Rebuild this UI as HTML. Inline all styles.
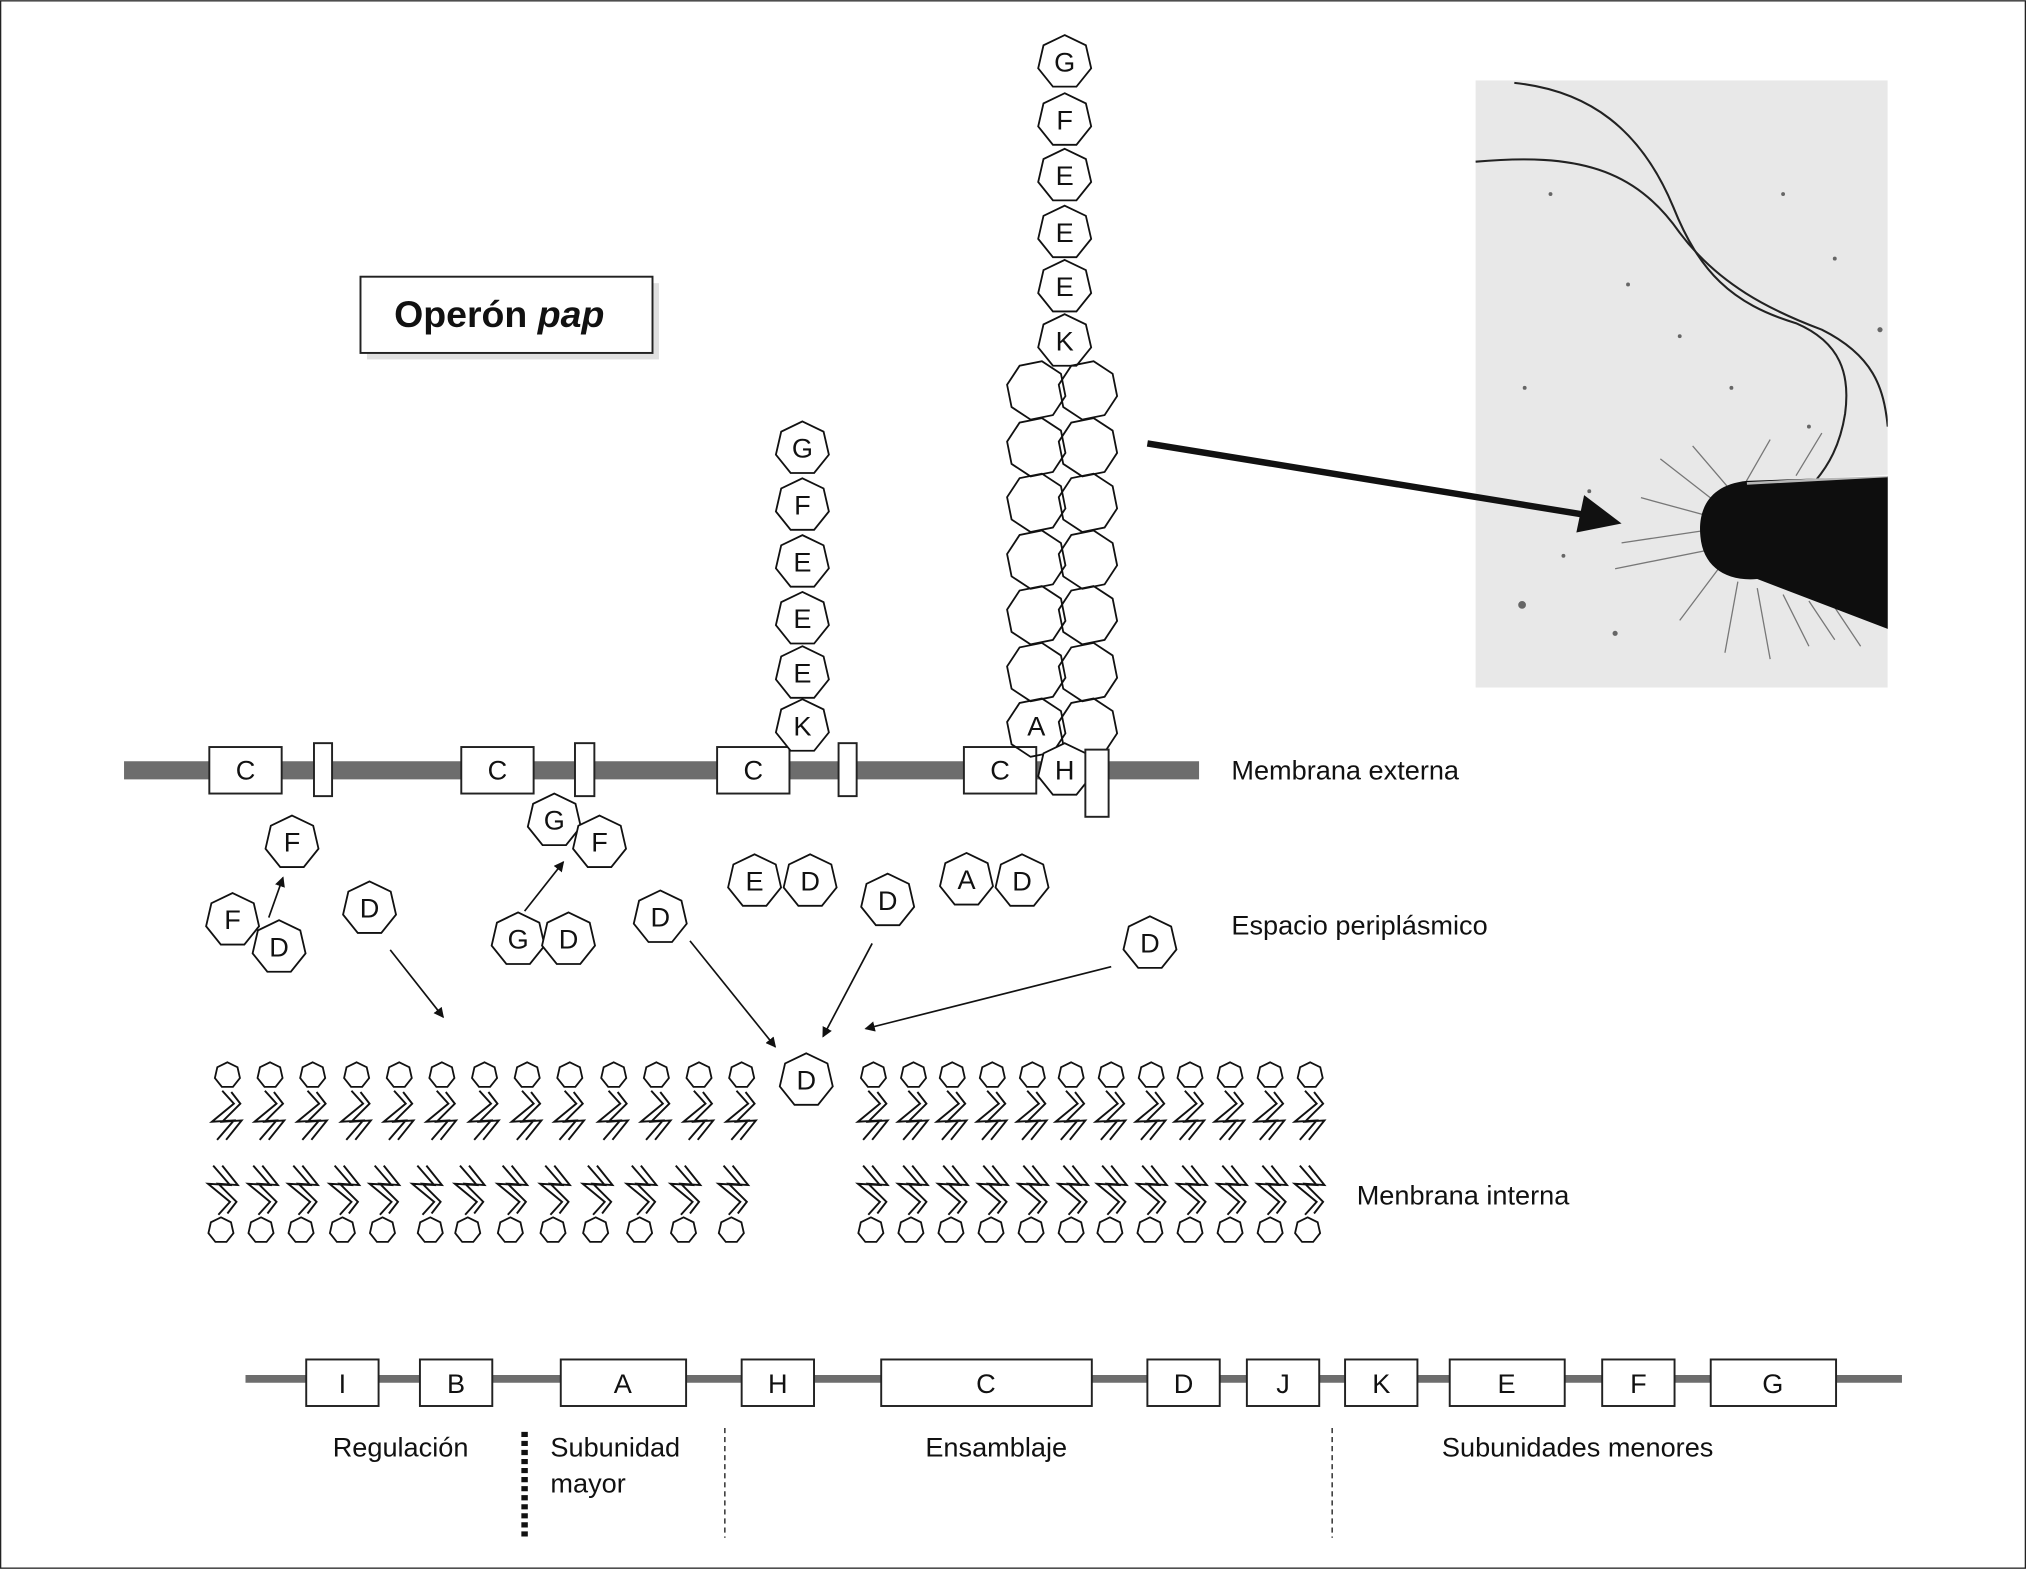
<!DOCTYPE html>
<html><head><meta charset="utf-8"><style>
html,body{margin:0;padding:0;background:#fff}
svg{display:block}
text{font-family:"Liberation Sans",Arial,sans-serif;fill:#111}
</style></head><body>
<svg width="2026" height="1569" viewBox="0 0 1568 1214" xmlns="http://www.w3.org/2000/svg">
<defs>
<polygon id="h" points="0,-21 16.4,-13.1 20.5,4.7 9.1,18.9 -9.1,18.9 -20.5,4.7 -16.4,-13.1" fill="#fff" stroke="#111" stroke-width="1.4"/>
<polygon id="o" points="23,0 16.3,-16.3 0,-23 -16.3,-16.3 -23,0 -16.3,16.3 0,23 16.3,16.3" fill="none" stroke="#111" stroke-width="1.4" transform="rotate(11)"/>
<polygon id="s" points="0,-10 7.8,-6.2 9.7,2.2 4.3,9 -4.3,9 -9.7,2.2 -7.8,-6.2" fill="#fff" stroke="#111" stroke-width="1.4"/>
<path id="t" d="M-3,0 L6,10 L-11,24 L6,23 L-7,38 M4,1 L11,10 L-3,24 L12,23 L0,38" fill="none" stroke="#111" stroke-width="1.5"/>
<marker id="a" markerWidth="8" markerHeight="8" refX="7" refY="4" orient="auto" markerUnits="userSpaceOnUse"><path d="M0,0 L8,4 L0,8 z" fill="#111"/></marker>
<clipPath id="pc"><rect x="1142" y="62" width="319" height="470"/></clipPath>
</defs>
<rect x="0.5" y="0.5" width="1567" height="1213" fill="#fff" stroke="#222" stroke-width="1"/>

<rect x="284" y="219" width="226" height="59" fill="#ccc" opacity="0.6"/>
<rect x="279" y="214" width="226" height="59" fill="#fff" stroke="#222" stroke-width="1.5"/>
<text x="305" y="253" font-size="29" font-weight="bold">Operón <tspan font-style="italic">pap</tspan></text>

<line x1="96" y1="596" x2="928" y2="596" stroke="#6d6d6d" stroke-width="14"/>
<g fill="#fff" stroke="#222" stroke-width="1.5">
<rect x="162" y="578" width="56" height="36"/><rect x="357" y="578" width="56" height="36"/>
<rect x="555" y="578" width="56" height="36"/><rect x="746" y="578" width="56" height="36"/>
<rect x="243" y="575" width="14" height="41"/><rect x="445" y="575" width="15" height="41"/>
<rect x="649" y="575" width="14" height="41"/>
</g>
<g font-size="21" text-anchor="middle">
<text x="190" y="603">C</text><text x="385" y="603">C</text><text x="583" y="603">C</text><text x="774" y="603">C</text>
</g>
<text x="953" y="603" font-size="21">Membrana externa</text>

<g font-size="21" text-anchor="middle">
<use href="#h" x="621" y="347"/><text x="621" y="354">G</text>
<use href="#h" x="621" y="391"/><text x="621" y="398">F</text>
<use href="#h" x="621" y="435"/><text x="621" y="442">E</text>
<use href="#h" x="621" y="479"/><text x="621" y="486">E</text>
<use href="#h" x="621" y="521"/><text x="621" y="528">E</text>
<use href="#h" x="621" y="562"/><text x="621" y="569">K</text>
</g>

<g font-size="21" text-anchor="middle">
<use href="#h" x="824" y="48"/><text x="824" y="55">G</text>
<use href="#h" x="824" y="93"/><text x="824" y="100">F</text>
<use href="#h" x="824" y="136"/><text x="824" y="143">E</text>
<use href="#h" x="824" y="180"/><text x="824" y="187">E</text>
<use href="#h" x="824" y="222"/><text x="824" y="229">E</text>
<use href="#h" x="824" y="264"/><text x="824" y="271">K</text>
</g>
<g>
<use href="#o" x="802" y="302"/><use href="#o" x="842" y="302"/>
<use href="#o" x="802" y="346"/><use href="#o" x="842" y="346"/>
<use href="#o" x="802" y="389"/><use href="#o" x="842" y="389"/>
<use href="#o" x="802" y="433"/><use href="#o" x="842" y="433"/>
<use href="#o" x="802" y="476"/><use href="#o" x="842" y="476"/>
<use href="#o" x="802" y="520"/><use href="#o" x="842" y="520"/>
<use href="#o" x="802" y="563"/><use href="#o" x="842" y="563"/>
</g>
<text x="802" y="569" font-size="21" text-anchor="middle">A</text>
<use href="#h" x="824" y="596"/><text x="824" y="603" font-size="21" text-anchor="middle">H</text>
<rect x="840" y="580" width="18" height="52" fill="#fff" stroke="#222" stroke-width="1.5"/>

<g font-size="21" text-anchor="middle">
<use href="#h" x="226" y="652"/><text x="226" y="659">F</text>
<use href="#h" x="180" y="712"/><text x="180" y="719">F</text>
<use href="#h" x="216" y="733"/><text x="216" y="740">D</text>
<use href="#h" x="286" y="703"/><text x="286" y="710">D</text>
<use href="#h" x="429" y="635"/><text x="429" y="642">G</text>
<use href="#h" x="464" y="652"/><text x="464" y="659">F</text>
<use href="#h" x="401" y="727"/><text x="401" y="734">G</text>
<use href="#h" x="440" y="727"/><text x="440" y="734">D</text>
<use href="#h" x="584" y="682"/><text x="584" y="689">E</text>
<use href="#h" x="627" y="682"/><text x="627" y="689">D</text>
<use href="#h" x="687" y="697"/><text x="687" y="704">D</text>
<use href="#h" x="748" y="681"/><text x="748" y="688">A</text>
<use href="#h" x="791" y="682"/><text x="791" y="689">D</text>
<use href="#h" x="511" y="710"/><text x="511" y="717">D</text>
<use href="#h" x="890" y="730"/><text x="890" y="737">D</text>
<use href="#h" x="624" y="836"/><text x="624" y="843">D</text>
</g>
<g stroke="#111" stroke-width="1.3" marker-end="url(#a)">
<line x1="208" y1="710" x2="219" y2="679"/>
<line x1="406" y1="705" x2="436" y2="667"/>
<line x1="302" y1="735" x2="343" y2="787"/>
<line x1="534" y1="728" x2="600" y2="810"/>
<line x1="675" y1="730" x2="637" y2="802"/>
<line x1="860" y1="748" x2="670" y2="796"/>
</g>
<text x="953" y="723" font-size="21">Espacio periplásmico</text>

<g>
<use href="#s" x="176" y="832"/><use href="#s" x="209" y="832"/><use href="#s" x="242" y="832"/><use href="#s" x="276" y="832"/><use href="#s" x="309" y="832"/><use href="#s" x="342" y="832"/><use href="#s" x="375" y="832"/><use href="#s" x="408" y="832"/><use href="#s" x="441" y="832"/><use href="#s" x="475" y="832"/><use href="#s" x="508" y="832"/><use href="#s" x="541" y="832"/><use href="#s" x="574" y="832"/>
<use href="#s" x="676" y="832"/><use href="#s" x="707" y="832"/><use href="#s" x="737" y="832"/><use href="#s" x="768" y="832"/><use href="#s" x="799" y="832"/><use href="#s" x="829" y="832"/><use href="#s" x="860" y="832"/><use href="#s" x="891" y="832"/><use href="#s" x="921" y="832"/><use href="#s" x="952" y="832"/><use href="#s" x="983" y="832"/><use href="#s" x="1014" y="832"/>
<use href="#t" x="175" y="844"/><use href="#t" x="208" y="844"/><use href="#t" x="241" y="844"/><use href="#t" x="275" y="844"/><use href="#t" x="308" y="844"/><use href="#t" x="341" y="844"/><use href="#t" x="374" y="844"/><use href="#t" x="407" y="844"/><use href="#t" x="440" y="844"/><use href="#t" x="474" y="844"/><use href="#t" x="507" y="844"/><use href="#t" x="540" y="844"/><use href="#t" x="573" y="844"/>
<use href="#t" x="675" y="844"/><use href="#t" x="706" y="844"/><use href="#t" x="736" y="844"/><use href="#t" x="767" y="844"/><use href="#t" x="798" y="844"/><use href="#t" x="828" y="844"/><use href="#t" x="859" y="844"/><use href="#t" x="890" y="844"/><use href="#t" x="920" y="844"/><use href="#t" x="951" y="844"/><use href="#t" x="982" y="844"/><use href="#t" x="1013" y="844"/>
</g>
<g transform="translate(0,1784) scale(1,-1)">
<use href="#t" x="172" y="844"/><use href="#t" x="203" y="844"/><use href="#t" x="234" y="844"/><use href="#t" x="266" y="844"/><use href="#t" x="297" y="844"/><use href="#t" x="330" y="844"/><use href="#t" x="363" y="844"/><use href="#t" x="396" y="844"/><use href="#t" x="429" y="844"/><use href="#t" x="462" y="844"/><use href="#t" x="496" y="844"/><use href="#t" x="530" y="844"/><use href="#t" x="567" y="844"/>
<use href="#t" x="675" y="844"/><use href="#t" x="706" y="844"/><use href="#t" x="737" y="844"/><use href="#t" x="768" y="844"/><use href="#t" x="799" y="844"/><use href="#t" x="830" y="844"/><use href="#t" x="860" y="844"/><use href="#t" x="891" y="844"/><use href="#t" x="922" y="844"/><use href="#t" x="953" y="844"/><use href="#t" x="984" y="844"/><use href="#t" x="1013" y="844"/>
</g>
<g>
<use href="#s" x="171" y="952"/><use href="#s" x="202" y="952"/><use href="#s" x="233" y="952"/><use href="#s" x="265" y="952"/><use href="#s" x="296" y="952"/><use href="#s" x="333" y="952"/><use href="#s" x="362" y="952"/><use href="#s" x="395" y="952"/><use href="#s" x="428" y="952"/><use href="#s" x="461" y="952"/><use href="#s" x="495" y="952"/><use href="#s" x="529" y="952"/><use href="#s" x="566" y="952"/>
<use href="#s" x="674" y="952"/><use href="#s" x="705" y="952"/><use href="#s" x="736" y="952"/><use href="#s" x="767" y="952"/><use href="#s" x="798" y="952"/><use href="#s" x="829" y="952"/><use href="#s" x="859" y="952"/><use href="#s" x="890" y="952"/><use href="#s" x="921" y="952"/><use href="#s" x="952" y="952"/><use href="#s" x="983" y="952"/><use href="#s" x="1012" y="952"/>
</g>
<text x="1050" y="932" font-size="21">Menbrana interna</text>

<line x1="190" y1="1067" x2="1472" y2="1067" stroke="#6d6d6d" stroke-width="6"/>
<g fill="#fff" stroke="#222" stroke-width="1.5">
<rect x="237" y="1052" width="56" height="36"/><rect x="325" y="1052" width="56" height="36"/>
<rect x="434" y="1052" width="97" height="36"/><rect x="574" y="1052" width="56" height="36"/>
<rect x="682" y="1052" width="163" height="36"/><rect x="888" y="1052" width="56" height="36"/>
<rect x="965" y="1052" width="56" height="36"/><rect x="1041" y="1052" width="56" height="36"/>
<rect x="1122" y="1052" width="89" height="36"/><rect x="1240" y="1052" width="56" height="36"/>
<rect x="1324" y="1052" width="97" height="36"/>
</g>
<g font-size="21" text-anchor="middle">
<text x="265" y="1078">I</text><text x="353" y="1078">B</text><text x="482" y="1078">A</text>
<text x="602" y="1078">H</text><text x="763" y="1078">C</text><text x="916" y="1078">D</text>
<text x="993" y="1078">J</text><text x="1069" y="1078">K</text><text x="1166" y="1078">E</text>
<text x="1268" y="1078">F</text><text x="1372" y="1078">G</text>
<text x="310" y="1127">Regulación</text>
<text x="771" y="1127">Ensamblaje</text>
<text x="1221" y="1127">Subunidades menores</text>
</g>
<text x="426" y="1127" font-size="21">Subunidad</text>
<text x="426" y="1155" font-size="21">mayor</text>
<line x1="406" y1="1108" x2="406" y2="1190" stroke="#111" stroke-width="5" stroke-dasharray="4,3"/>
<line x1="561" y1="1105" x2="561" y2="1190" stroke="#111" stroke-width="1" stroke-dasharray="4,3"/>
<line x1="1031" y1="1105" x2="1031" y2="1190" stroke="#111" stroke-width="1" stroke-dasharray="4,3"/>

<g clip-path="url(#pc)">
<rect x="1142" y="62" width="319" height="470" fill="#e8e8e8"/>
<g fill="#666">
<circle cx="1200" cy="150" r="1.5"/><circle cx="1260" cy="220" r="1.5"/><circle cx="1180" cy="300" r="1.5"/><circle cx="1230" cy="380" r="1.5"/><circle cx="1178" cy="468" r="3"/><circle cx="1300" cy="260" r="1.5"/><circle cx="1380" cy="150" r="1.5"/><circle cx="1420" cy="200" r="1.5"/><circle cx="1250" cy="490" r="2"/><circle cx="1210" cy="430" r="1.5"/><circle cx="1340" cy="300" r="1.5"/><circle cx="1400" cy="330" r="1.5"/><circle cx="1455" cy="255" r="2"/>
</g>
<g fill="none" stroke="#222" stroke-width="1.6">
<path d="M1172,64 C1230,70 1270,100 1295,160 C1315,210 1340,235 1390,250 C1425,265 1432,290 1428,320 C1424,345 1415,360 1405,372"/>
<path d="M1142,125 C1220,118 1265,130 1300,180 C1330,220 1370,240 1410,255 C1450,275 1458,300 1461,330"/>
</g>
<g stroke="#777" stroke-width="1">
<path d="M1330,390 L1285,355 M1325,400 L1270,385 M1322,410 L1255,420 M1325,425 L1250,440 M1330,440 L1300,480 M1345,450 L1335,505 M1360,455 L1370,510 M1380,460 L1400,500 M1400,465 L1420,495 M1340,380 L1310,345 M1350,375 L1370,340 M1420,470 L1440,500 M1390,368 L1410,335"/>
</g>
<path d="M1470,368 L1352,372 C1322,375 1314,395 1316,415 C1318,438 1335,450 1360,448 L1470,490 Z" fill="#0e0e0e"/>
<path d="M1352,374 L1465,368" stroke="#fff" stroke-width="2" opacity="0.7"/>
</g>
<line x1="888" y1="343" x2="1225" y2="398" stroke="#111" stroke-width="5"/>
<polygon points="1255,405 1220,412 1226,383" fill="#111"/>
</svg>
</body></html>
